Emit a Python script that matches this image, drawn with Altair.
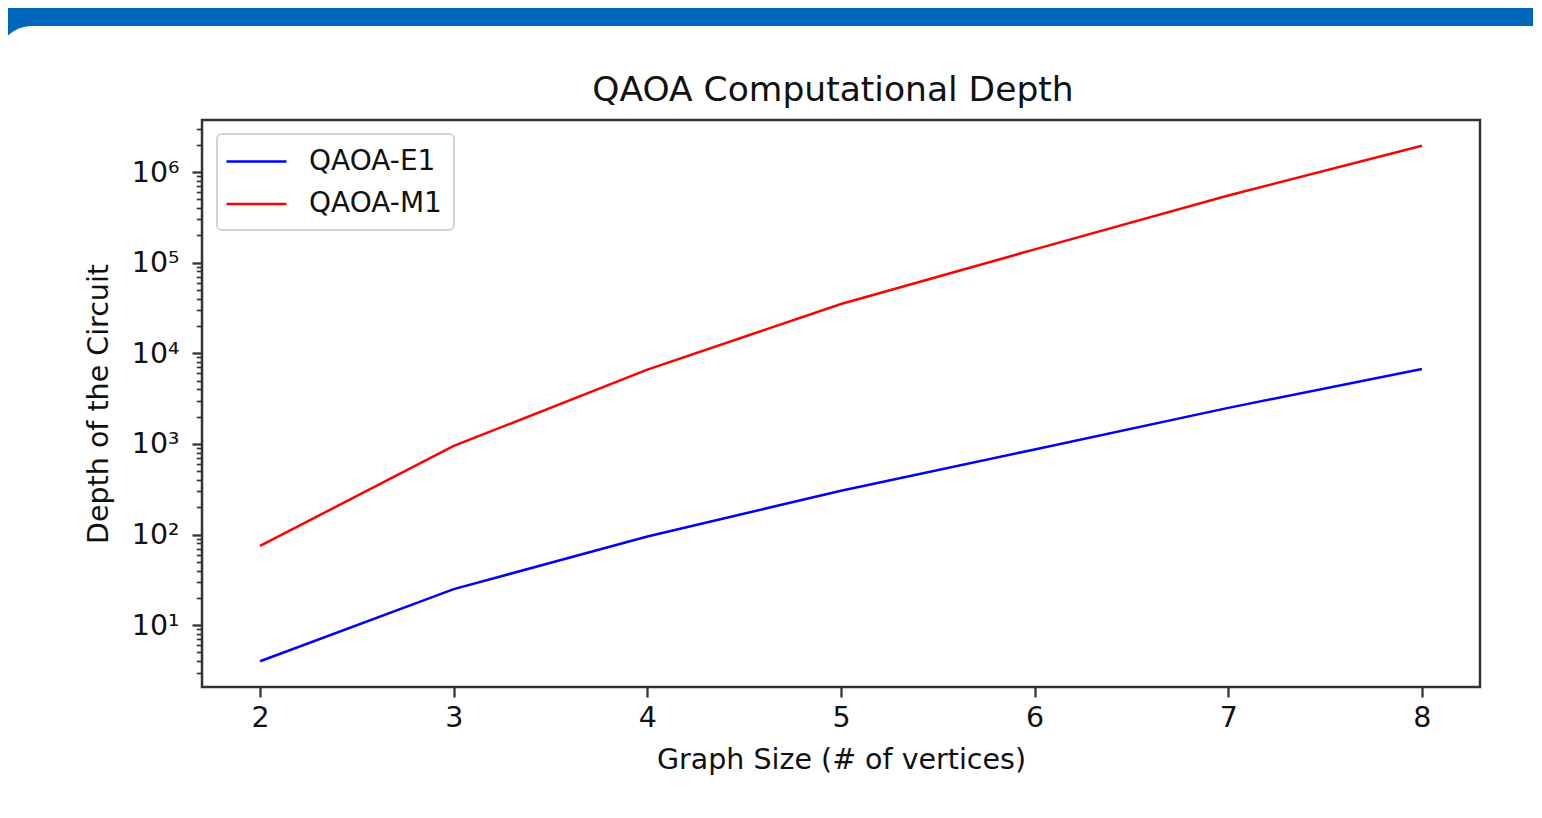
import altair as alt
import pandas as pd

# ---- data ----
graph_size = [2, 3, 4, 5, 6, 7, 8]
depth_e1 = [4, 25, 95, 305, 870, 2500, 6700]
depth_m1 = [75, 950, 6600, 35000, 140000, 550000, 1950000]
series_names = ["QAOA-E1", "QAOA-M1"]
series_colors = ["#0000ff", "#ff0000"]

x_ticks = [2, 3, 4, 5, 6, 7, 8]
y_major = [10, 100, 1000, 10000, 100000, 1000000]
y_major_labels = ["10¹", "10²", "10³", "10⁴", "10⁵", "10⁶"]
y_minor = [3, 4, 5, 6, 7, 8, 9,
           20, 30, 40, 50, 60, 70, 80, 90,
           200, 300, 400, 500, 600, 700, 800, 900,
           2000, 3000, 4000, 5000, 6000, 7000, 8000, 9000,
           20000, 30000, 40000, 50000, 60000, 70000, 80000, 90000,
           200000, 300000, 400000, 500000, 600000, 700000, 800000, 900000,
           2000000, 3000000]

rows = []
for name, vals in zip(series_names, [depth_e1, depth_m1]):
    for g, v in zip(graph_size, vals):
        rows.append({"size": g, "depth": v, "series": name})
df = pd.DataFrame(rows)

W, H = 1278, 567
FONT = "DejaVu Sans"
INK = "#333333"

label_expr = " : ".join(
    f"datum.value == {v} ? '{l}'" for v, l in zip(y_major, y_major_labels)
) + " : ''"
major_test = "indexof([" + ",".join(str(v) for v in y_major) + "], datum.value) >= 0"

x_axis = alt.Axis(
    values=x_ticks, format="d", grid=False, domain=False,
    tickSize=10, tickWidth=2.3, tickColor=INK,
    labelFontSize=28.5, labelFont=FONT, labelColor="#111111", labelPadding=6,
    labelFlush=False,
    title="Graph Size (# of vertices)", titleFontSize=28.5, titleFont=FONT,
    titleFontWeight="normal", titleColor="#111111", titlePadding=14, zindex=1,
)
y_axis = alt.Axis(
    values=y_major + y_minor, labelExpr=label_expr, grid=False, domain=False,
    tickSize={"condition": {"test": major_test, "value": 10}, "value": 5.7},
    tickWidth={"condition": {"test": major_test, "value": 2.3}, "value": 1.7},
    tickColor=INK, labelOverlap=False,
    labelFontSize=28.5, labelFont=FONT, labelColor="#111111", labelPadding=13,
    title="Depth of the Circuit", titleFontSize=28.5, titleFont=FONT,
    titleFontWeight="normal", titleColor="#111111", titlePadding=18, zindex=1,
)

one = pd.DataFrame({"k": [0]})

# white rounded card on the blue page
card = alt.Chart(one).mark_rect(fill="white", cornerRadius=35).encode(
    x=alt.value(-205), x2=alt.value(1361), y=alt.value(-94), y2=alt.value(700)
)
# axes frame
frame = alt.Chart(one).mark_rect(fill="white", fillOpacity=0, stroke=INK, strokeWidth=2.5).encode(
    x=alt.value(0), x2=alt.value(W), y=alt.value(0), y2=alt.value(H)
)

lines = alt.Chart(df).mark_line(strokeWidth=2.5).encode(
    x=alt.X("size:Q", scale=alt.Scale(domain=[1.7, 8.3], nice=False, zero=False), axis=x_axis),
    y=alt.Y("depth:Q", scale=alt.Scale(type="log", domain=[2.08, 3.75e6], nice=False), axis=y_axis),
    color=alt.Color(
        "series:N",
        scale=alt.Scale(domain=series_names, range=series_colors),
        legend=alt.Legend(
            title=None, orient="none", legendX=15, legendY=14,
            padding=12, fillColor="white", strokeColor="#d3d3d3", cornerRadius=5,
            symbolType="M-2.14,0H2.14", symbolSize=784, symbolStrokeWidth=2.5,
            symbolOffset=12, labelOffset=37, rowPadding=12.5,
            labelFontSize=28, labelFont=FONT, labelColor="#111111", labelLimit=400,
        ),
    ),
)

chart = alt.layer(card, frame, lines).properties(
    width=W, height=H,
    background="#0066bb",
    padding={"left": 194, "top": 112, "right": 53, "bottom": 122},
    autosize=alt.AutoSizeParams(type="none"),
    title=alt.TitleParams(
        "QAOA Computational Depth", fontSize=34.5, font=FONT, fontWeight="normal",
        color="#111111", frame="group", anchor="middle", offset=12, dy=94, dx=-8,
    ),
).configure_view(strokeWidth=0).configure_legend(strokeWidth=2)

chart.save("out.html", embed_options={"renderer": "svg", "actions": False})
